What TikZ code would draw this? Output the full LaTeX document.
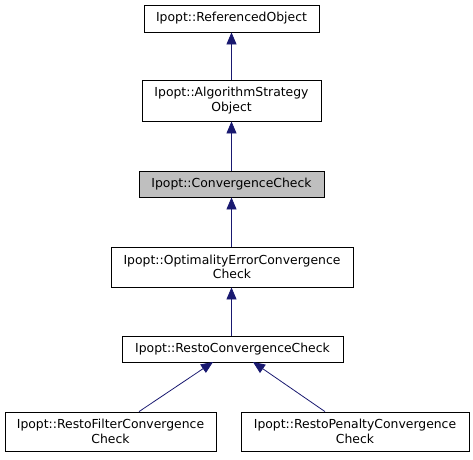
\documentclass[tikz,border=0pt]{standalone}
\usepackage{fontspec}
\setmainfont{DejaVu Sans}
\usetikzlibrary{arrows.meta}
\definecolor{edgeblue}{HTML}{191970}
\definecolor{hlgray}{HTML}{BFBFBF}
\tikzset{
  cls/.style={draw=black, line width=0.8pt, inner sep=0pt, font=\fontsize{12.4}{14.6}\selectfont, align=center},
  inh/.style={draw=edgeblue, line width=0.8pt, {Triangle[length=12pt,width=10pt,fill=edgeblue]}-},
}
\begin{document}
\begin{tikzpicture}[x=1pt,y=-1pt]
\useasboundingbox (0,0) rectangle (473,459);
\node[cls, minimum width=175pt, minimum height=27pt] (ro) at (231.5,18.5) {Ipopt::ReferencedObject};
\node[cls, minimum width=179pt, minimum height=41pt] (aso) at (231.5,100.5) {Ipopt::AlgorithmStrategy\\Object};
\node[cls, fill=hlgray, minimum width=185pt, minimum height=26pt] (cc) at (231.5,184) {Ipopt::ConvergenceCheck};
\node[cls, minimum width=242pt, minimum height=40pt] (oec) at (232,267) {Ipopt::OptimalityErrorConvergence\\Check};
\node[cls, minimum width=221pt, minimum height=26pt] (rcc) at (232.5,349) {Ipopt::RestoConvergenceCheck};
\node[cls, minimum width=211pt, minimum height=39pt] (rfc) at (110.5,431.5) {Ipopt::RestoFilterConvergence\\Check};
\node[cls, minimum width=228pt, minimum height=39pt] (rpc) at (355,431.5) {Ipopt::RestoPenaltyConvergence\\Check};
\draw[inh] (ro.south) -- (aso.north);
\draw[inh] (aso.south) -- (cc.north);
\draw[inh] (cc.south) -- (cc.south |- oec.north);
\draw[inh] (cc.south |- oec.south) -- (cc.south |- rcc.north);
\coordinate (t1) at (213,362);
\coordinate (t2) at (253,362);
\draw[inh] (t1) -- (rfc.north -| 139,0);
\draw[inh] (t2) -- (rpc.north -| 325,0);
\end{tikzpicture}
\end{document}
